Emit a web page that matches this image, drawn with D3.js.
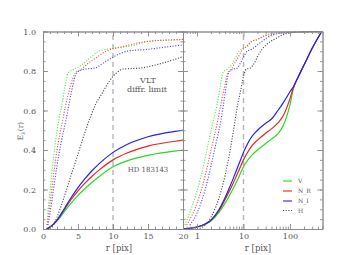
<!DOCTYPE html>
<html>
  <head>
    <meta charset="UTF-8">
    <title>Encircled energy</title>
    <script src="https://d3js.org/d3.v7.min.js" charset="utf-8"></script>
    <style>
      body { margin: 0; background: #fff; }
      text { font-family: "DejaVu Serif", "Liberation Serif", serif; fill: #555; }
    </style>
  </head>
  <body>
    <script>
        var w = 346;
        var h = 255;

        // solid curves: HD 183143, shared radius grid
        var solidR = [0.5, 0.7, 1, 1.5, 2, 3, 4, 5, 6, 7, 8, 10, 12, 15, 20, 30, 40, 55, 72, 100, 118, 150, 200, 300, 480];
        var solidV = [0, 0.003, 0.01, 0.024, 0.04, 0.085, 0.13, 0.17, 0.205, 0.237, 0.265, 0.315, 0.345, 0.373, 0.40, 0.433, 0.455, 0.482, 0.525, 0.63, 0.71, 0.77, 0.83, 0.915, 1.0];
        var solidNR = [0, 0.003, 0.01, 0.025, 0.045, 0.095, 0.148, 0.193, 0.232, 0.267, 0.298, 0.35, 0.385, 0.42, 0.45, 0.485, 0.507, 0.537, 0.575, 0.66, 0.715, 0.77, 0.83, 0.915, 1.0];
        var solidNI = [0, 0.003, 0.01, 0.025, 0.045, 0.1, 0.158, 0.21, 0.255, 0.295, 0.33, 0.388, 0.428, 0.467, 0.5, 0.535, 0.557, 0.6, 0.64, 0.695, 0.72, 0.77, 0.83, 0.915, 1.0];

        // dotted curves: VLT diffraction limit
        var dotVR = [0.55, 0.8, 1.2, 1.7, 2.3, 2.7, 3.1, 3.6, 4.5, 5.5, 6.5, 8, 10, 13, 15, 20, 27, 50, 100, 500];
        var dotV = [0.02, 0.12, 0.26, 0.42, 0.56, 0.63, 0.71, 0.79, 0.81, 0.83, 0.86, 0.90, 0.915, 0.93, 0.95, 0.96, 0.978, 0.993, 0.998, 1.0];
        var dotNRR = [0.6, 1, 1.5, 2, 2.8, 3.2, 3.9, 4.6, 5.5, 6.5, 7.7, 9, 11, 15, 20, 27, 50, 100, 500];
        var dotNR = [0.02, 0.13, 0.27, 0.40, 0.55, 0.62, 0.72, 0.79, 0.81, 0.84, 0.87, 0.90, 0.92, 0.95, 0.96, 0.975, 0.99, 0.996, 1.0];
        var dotNIR = [0.7, 1, 1.5, 2, 2.6, 3.3, 3.7, 4.1, 4.8, 5.8, 7.4, 8.6, 10, 12, 15, 20, 25, 40, 85, 500];
        var dotNI = [0.02, 0.08, 0.2, 0.32, 0.44, 0.555, 0.63, 0.70, 0.79, 0.808, 0.815, 0.84, 0.87, 0.9, 0.91, 0.932, 0.95, 0.98, 0.995, 1.0];
        var dotHR = [1, 1.5, 2, 3, 4, 5, 6, 6.8, 7.5, 8.5, 9.5, 10.5, 11.5, 14, 16, 18.5, 20, 25, 30, 50, 85, 150, 500];
        var dotH = [0, 0.02, 0.06, 0.16, 0.27, 0.38, 0.49, 0.57, 0.63, 0.69, 0.75, 0.79, 0.81, 0.815, 0.83, 0.855, 0.873, 0.91, 0.93, 0.965, 0.99, 0.997, 1.0];

        var yTicks = [0, 0.2, 0.4, 0.6, 0.8, 1.0];
        var linTicks = [0, 5, 10, 15, 20];
        var logTicks = [1, 10, 100];
        var legendLabels = ["V", "N_R", "N_I", "H"];

        var axisColor = "#8a8a8a";
        var colV = "#22dd22", colNR = "#ee2222", colNI = "#2222ee", colH = "#444";

        var x0 = 43, xm = 183, x1 = 322.5, yb = 229, yt = 31.5;

        var xL = d3.scaleLinear().domain([0, 20]).range([x0, xm]);
        var xR = d3.scaleLog().domain([0.5, 500]).range([xm, x1]);
        var y = d3.scaleLinear().domain([0, 1]).range([yb, yt]);

        var svg = d3.select("body").append("svg")
            .attr("width", w)
            .attr("height", h);

        var defs = svg.append("defs");
        defs.append("clipPath").attr("id", "clipL").append("rect")
            .attr("x", x0).attr("y", yt - 2).attr("width", xm - x0).attr("height", yb - yt + 4);
        defs.append("clipPath").attr("id", "clipR").append("rect")
            .attr("x", xm).attr("y", yt - 2).attr("width", x1 - xm).attr("height", yb - yt + 4);

        var series = [
            {r: dotVR, e: dotV, color: "#44ee44", dot: true},
            {r: dotNRR, e: dotNR, color: "#ff4444", dot: true},
            {r: dotNIR, e: dotNI, color: "#4444ff", dot: true},
            {r: dotHR, e: dotH, color: colH, dot: true},
            {r: solidR, e: solidV, color: colV, dot: false},
            {r: solidR, e: solidNR, color: colNR, dot: false},
            {r: solidR, e: solidNI, color: colNI, dot: false}
        ];

        function drawPanel(xs, clip, dashAt) {
            var g = svg.append("g").attr("clip-path", "url(#" + clip + ")");

            // dashed line at r = 10
            g.append("line")
                .attr("x1", xs(dashAt)).attr("x2", xs(dashAt))
                .attr("y1", yb).attr("y2", yt)
                .attr("stroke", "#b5b5b5")
                .attr("stroke-width", 1.4)
                .attr("stroke-dasharray", "5,4");

            var line = d3.line()
                .x(function(d){ return xs(d[0]); })
                .y(function(d){ return y(d[1]); })
                .curve(d3.curveMonotoneX);

            series.forEach(function(s){
                var pts = s.r.map(function(r, i){ return [r, s.e[i]]; });
                g.append("path")
                    .attr("d", line(pts))
                    .attr("fill", "none")
                    .attr("stroke", s.color)
                    .attr("stroke-width", s.dot ? 1.1 : 1.2)
                    .attr("stroke-dasharray", s.dot ? "1.1,1.6" : null);
            });
        }

        drawPanel(xL, "clipL", 10);
        drawPanel(xR, "clipR", 10);

        function styleAxis(g) {
            g.selectAll("path, line").attr("stroke", axisColor).attr("stroke-width", 0.9);
            g.selectAll("text")
                .attr("font-family", "DejaVu Serif, serif")
                .attr("font-size", "8px")
                .attr("fill", "#555");
        }

        var yMinor = d3.range(0, 1.001, 0.05);
        var linMinor = d3.range(0, 20.1, 1);
        var logMinor = [0.5,0.6,0.7,0.8,0.9,2,3,4,5,6,7,8,9,20,30,40,50,60,70,80,90,200,300,400,500];

        // left panel axes
        svg.append("g").attr("transform", "translate(" + x0 + ",0)")
            .call(d3.axisLeft(y).tickValues(yTicks).tickFormat(d3.format(".1f")).tickSizeInner(-5).tickSizeOuter(0).tickPadding(7))
            .call(styleAxis);
        svg.append("g").attr("transform", "translate(" + x0 + ",0)")
            .call(d3.axisLeft(y).tickValues(yMinor).tickFormat("").tickSizeInner(-2.5).tickSizeOuter(0))
            .call(styleAxis);
        svg.append("g").attr("transform", "translate(" + xm + ",0)")
            .call(d3.axisLeft(y).tickValues(yTicks).tickFormat("").tickSizeInner(5).tickSizeOuter(0))
            .call(styleAxis);
        svg.append("g").attr("transform", "translate(" + xm + ",0)")
            .call(d3.axisLeft(y).tickValues(yMinor).tickFormat("").tickSizeInner(2.5).tickSizeOuter(0))
            .call(styleAxis);
        svg.append("g").attr("transform", "translate(0," + yb + ")")
            .call(d3.axisBottom(xL).tickValues(linTicks).tickFormat(d3.format("d")).tickSizeInner(-5).tickSizeOuter(0).tickPadding(4))
            .call(styleAxis);
        svg.append("g").attr("transform", "translate(0," + yb + ")")
            .call(d3.axisBottom(xL).tickValues(linMinor).tickFormat("").tickSizeInner(-2.5).tickSizeOuter(0))
            .call(styleAxis);
        svg.append("g").attr("transform", "translate(0," + yt + ")")
            .call(d3.axisTop(xL).tickValues(linTicks).tickFormat("").tickSizeInner(-5).tickSizeOuter(0))
            .call(styleAxis);
        svg.append("g").attr("transform", "translate(0," + yt + ")")
            .call(d3.axisTop(xL).tickValues(linMinor).tickFormat("").tickSizeInner(-2.5).tickSizeOuter(0))
            .call(styleAxis);

        // right panel axes
        svg.append("g").attr("transform", "translate(" + xm + ",0)")
            .call(d3.axisLeft(y).tickValues(yTicks).tickFormat("").tickSizeInner(-5).tickSizeOuter(0))
            .call(styleAxis);
        svg.append("g").attr("transform", "translate(" + xm + ",0)")
            .call(d3.axisLeft(y).tickValues(yMinor).tickFormat("").tickSizeInner(-2.5).tickSizeOuter(0))
            .call(styleAxis);
        svg.append("g").attr("transform", "translate(" + x1 + ",0)")
            .call(d3.axisRight(y).tickValues(yTicks).tickFormat("").tickSizeInner(-5).tickSizeOuter(0))
            .call(styleAxis);
        svg.append("g").attr("transform", "translate(" + x1 + ",0)")
            .call(d3.axisRight(y).tickValues(yMinor).tickFormat("").tickSizeInner(-2.5).tickSizeOuter(0))
            .call(styleAxis);
        svg.append("g").attr("transform", "translate(0," + yb + ")")
            .call(d3.axisBottom(xR).tickValues(logTicks).tickFormat(d3.format("d")).tickSizeInner(-5).tickSizeOuter(0).tickPadding(4))
            .call(styleAxis);
        svg.append("g").attr("transform", "translate(0," + yb + ")")
            .call(d3.axisBottom(xR).tickValues(logMinor).tickFormat("").tickSizeInner(-2.5).tickSizeOuter(0))
            .call(styleAxis);
        svg.append("g").attr("transform", "translate(0," + yt + ")")
            .call(d3.axisTop(xR).tickValues(logTicks).tickFormat("").tickSizeInner(-5).tickSizeOuter(0))
            .call(styleAxis);
        svg.append("g").attr("transform", "translate(0," + yt + ")")
            .call(d3.axisTop(xR).tickValues(logMinor).tickFormat("").tickSizeInner(-2.5).tickSizeOuter(0))
            .call(styleAxis);

        // axis titles
        svg.append("text")
            .attr("x", 119).attr("y", 251)
            .attr("text-anchor", "middle")
            .attr("font-size", "8.5px")
            .text("r [pix]");
        svg.append("text")
            .attr("x", 258).attr("y", 251)
            .attr("text-anchor", "middle")
            .attr("font-size", "8.5px")
            .text("r [pix]");

        var ylab = svg.append("text")
            .attr("transform", "translate(23,131) rotate(-90)")
            .attr("text-anchor", "middle")
            .attr("font-size", "7.5px");
        ylab.append("tspan").text("E");
        ylab.append("tspan").attr("font-size", "5.5px").attr("dy", 2).text("λ");
        ylab.append("tspan").attr("dy", -2).text("(r)");

        // annotations
        svg.append("text").attr("x", 148).attr("y", 83)
            .attr("text-anchor", "middle").attr("font-size", "8px").text("VLT");
        svg.append("text").attr("x", 147).attr("y", 92)
            .attr("text-anchor", "middle").attr("font-size", "8px").text("diffr. limit");
        svg.append("text").attr("x", 148).attr("y", 172)
            .attr("text-anchor", "middle").attr("font-size", "7px").text("HD 183143");

        // legend
        var legendColors = [colV, colNR, colNI, colH];
        var legendY = [181, 191, 201, 210.5];
        var leg = svg.selectAll(".leg")
            .data(legendLabels)
            .enter()
            .append("g")
            .attr("class", "leg");
        leg.append("line")
            .attr("x1", 283).attr("x2", 292)
            .attr("y1", function(d, i){ return legendY[i]; })
            .attr("y2", function(d, i){ return legendY[i]; })
            .attr("stroke", function(d, i){ return legendColors[i]; })
            .attr("stroke-width", 1.1)
            .attr("stroke-dasharray", function(d, i){ return i == 3 ? "1.1,1.6" : null; });
        leg.append("text")
            .attr("x", 298)
            .attr("y", function(d, i){ return legendY[i] + 2; })
            .attr("font-size", "6px")
            .text(function(d){ return d; });
    </script>
  </body>
</html>
